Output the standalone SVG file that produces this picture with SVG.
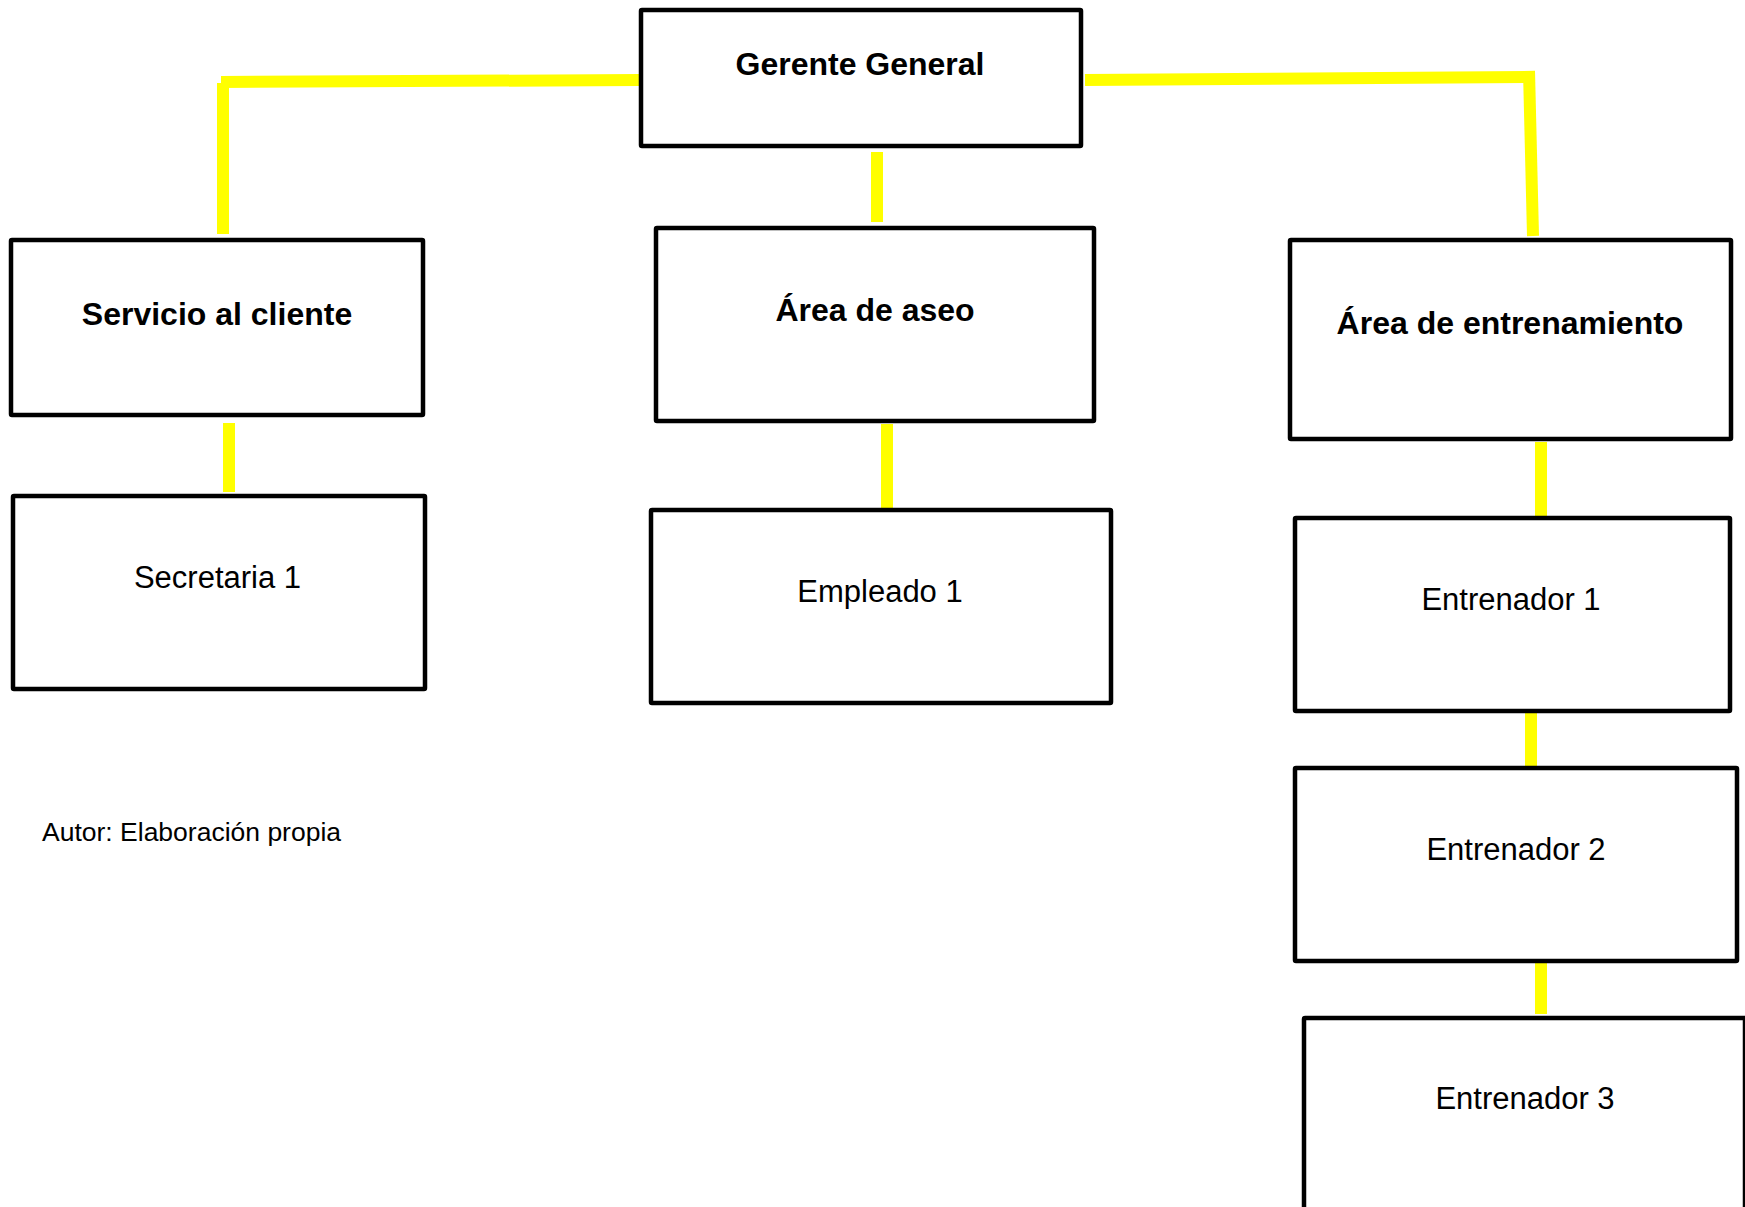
<svg xmlns="http://www.w3.org/2000/svg" width="1745" height="1207" viewBox="0 0 1745 1207">
  <style>
    .box { fill: #ffffff; stroke: #000000; stroke-width: 4.5; }
    .conn { stroke: #ffff00; stroke-width: 12; fill: none; stroke-linecap: butt; }
    .bold { font-family: "Liberation Sans", Arial, sans-serif; font-weight: bold; font-size: 32px; fill: #000000; text-anchor: middle; }
    .reg { font-family: "Liberation Sans", Arial, sans-serif; font-size: 31px; fill: #000000; text-anchor: middle; }
    .note { font-family: "Liberation Sans", Arial, sans-serif; font-size: 26.5px; fill: #000000; }
  </style>
  <rect width="1745" height="1207" fill="#ffffff"/>
  <g id="connectors">
    <line class="conn" x1="221" y1="82" x2="639" y2="80"/>
    <line class="conn" x1="223" y1="83" x2="223" y2="234"/>
    <line class="conn" x1="877" y1="152" x2="877" y2="222"/>
    <line class="conn" x1="1085" y1="80" x2="1535" y2="77"/>
    <line class="conn" x1="1529" y1="71" x2="1533" y2="236"/>
    <line class="conn" x1="229" y1="423" x2="229" y2="492"/>
    <line class="conn" x1="887" y1="424" x2="887" y2="511"/>
    <line class="conn" x1="1541" y1="442" x2="1541" y2="517"/>
    <line class="conn" x1="1531" y1="712" x2="1531" y2="768"/>
    <line class="conn" x1="1541" y1="961" x2="1541" y2="1014"/>
  </g>
  <g id="gerente">
    <rect class="box" x="641" y="10" width="440" height="136" rx="1"/>
    <text class="bold" x="860" y="75">Gerente General</text>
  </g>
  <g id="servicio">
    <rect class="box" x="11" y="240" width="412" height="175" rx="1"/>
    <text class="bold" x="217" y="325">Servicio al cliente</text>
  </g>
  <g id="aseo">
    <rect class="box" x="656" y="228" width="438" height="193" rx="1"/>
    <text class="bold" x="875" y="321">Área de aseo</text>
  </g>
  <g id="entrenamiento">
    <rect class="box" x="1290" y="240" width="441" height="199" rx="1"/>
    <text class="bold" x="1510" y="334">Área de entrenamiento</text>
  </g>
  <g id="secretaria">
    <rect class="box" x="13" y="496" width="412" height="193" rx="1"/>
    <text class="reg" x="217.5" y="588">Secretaria 1</text>
  </g>
  <g id="empleado">
    <rect class="box" x="651" y="510" width="460" height="193" rx="1"/>
    <text class="reg" x="880" y="602">Empleado 1</text>
  </g>
  <g id="entrenador1">
    <rect class="box" x="1295" y="518" width="435" height="193" rx="1"/>
    <text class="reg" x="1511" y="610">Entrenador 1</text>
  </g>
  <g id="entrenador2">
    <rect class="box" x="1295" y="768" width="442" height="193" rx="1"/>
    <text class="reg" x="1516" y="860">Entrenador 2</text>
  </g>
  <g id="entrenador3">
    <rect class="box" x="1304" y="1018" width="441" height="250" rx="1"/>
    <text class="reg" x="1525" y="1109">Entrenador 3</text>
  </g>
  <text class="note" x="42" y="841">Autor: Elaboración propia</text>
</svg>
